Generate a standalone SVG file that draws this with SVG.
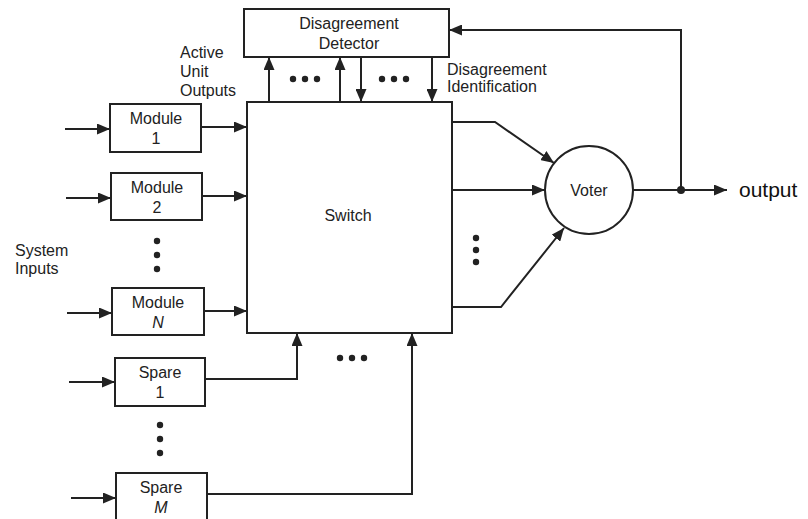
<svg xmlns="http://www.w3.org/2000/svg" width="808" height="519" viewBox="0 0 808 519">
<style>
.box{fill:#fff;stroke:#222;stroke-width:2}
.ln{fill:none;stroke:#222;stroke-width:2}
.arr{marker-end:url(#ah)}
.t{font-family:"Liberation Sans",Arial,sans-serif;font-size:16px;fill:#222;text-anchor:middle}
.tl{font-family:"Liberation Sans",Arial,sans-serif;font-size:16px;fill:#222}
.dot{fill:#222}
</style>
<defs>
<marker id="ah" viewBox="0 0 13 11" refX="13" refY="5.5" markerWidth="13" markerHeight="11" markerUnits="userSpaceOnUse" orient="auto">
<path d="M0,0 L13,5.5 L0,11 Z" fill="#222"/>
</marker>
</defs>
<rect width="808" height="519" fill="#fff"/>
<g id="detector"><rect class="box" x="244" y="9" width="205" height="48"/><text class="t" x="349" y="29">Disagreement</text><text class="t" x="349" y="49">Detector</text></g>
<g id="switch"><rect class="box" x="247" y="102" width="205" height="231"/><text class="t" x="348" y="221">Switch</text></g>
<g id="voter"><circle class="box" cx="589" cy="190" r="44"/><text class="t" x="589" y="196">Voter</text></g>
<g id="module1"><rect class="box" x="110" y="104" width="91" height="48"/><text class="t" x="156" y="124">Module</text><text class="t" x="156" y="144">1</text></g>
<g id="module2"><rect class="box" x="111" y="173" width="91" height="47"/><text class="t" x="157" y="193">Module</text><text class="t" x="157" y="213">2</text></g>
<g id="moduleN"><rect class="box" x="112" y="288" width="92" height="47"/><text class="t" x="158" y="308">Module</text><text class="t" x="158" y="328" font-style="italic">N</text></g>
<g id="spare1"><rect class="box" x="115" y="358" width="90" height="48"/><text class="t" x="160" y="378">Spare</text><text class="t" x="160" y="398">1</text></g>
<g id="spareM"><rect class="box" x="116" y="473" width="91" height="50"/><text class="t" x="161" y="493">Spare</text><text class="t" x="161" y="513" font-style="italic">M</text></g>
<g id="labels">
<text class="tl" x="180" y="58">Active</text><text class="tl" x="180" y="77">Unit</text><text class="tl" x="180" y="96">Outputs</text>
<text class="tl" x="447" y="75">Disagreement</text><text class="tl" x="447" y="92">Identification</text>
<text class="tl" x="15" y="256">System</text><text class="tl" x="15" y="274">Inputs</text>
<text x="739" y="197" font-family="Liberation Sans,Arial,sans-serif" font-size="21" fill="#111">output</text>
</g>
<g id="dots">
<circle class="dot" cx="293" cy="79" r="3.2"/><circle class="dot" cx="305" cy="79" r="3.2"/><circle class="dot" cx="317" cy="79" r="3.2"/>
<circle class="dot" cx="382" cy="79" r="3.2"/><circle class="dot" cx="394" cy="79" r="3.2"/><circle class="dot" cx="406" cy="79" r="3.2"/>
<circle class="dot" cx="157" cy="241" r="3.2"/><circle class="dot" cx="157" cy="255" r="3.2"/><circle class="dot" cx="157" cy="269" r="3.2"/>
<circle class="dot" cx="160" cy="425" r="3.2"/><circle class="dot" cx="160" cy="439" r="3.2"/><circle class="dot" cx="160" cy="453" r="3.2"/>
<circle class="dot" cx="340" cy="358" r="3.2"/><circle class="dot" cx="352" cy="358" r="3.2"/><circle class="dot" cx="364" cy="358" r="3.2"/>
<circle class="dot" cx="476" cy="238" r="3.2"/><circle class="dot" cx="476" cy="250" r="3.2"/><circle class="dot" cx="476" cy="262" r="3.2"/>
</g>
<g id="connectors">
<line class="ln arr" x1="65" y1="129" x2="110" y2="129"/>
<line class="ln arr" x1="66" y1="198" x2="111" y2="198"/>
<line class="ln arr" x1="67" y1="313" x2="112" y2="313"/>
<line class="ln arr" x1="69" y1="382" x2="115" y2="382"/>
<line class="ln arr" x1="71" y1="498" x2="116" y2="498"/>
<line class="ln arr" x1="201" y1="127" x2="247" y2="127"/>
<line class="ln arr" x1="202" y1="196" x2="247" y2="196"/>
<line class="ln arr" x1="204" y1="311" x2="247" y2="311"/>
<polyline class="ln arr" points="205,379 297,379 297,333"/>
<polyline class="ln arr" points="207,494 412,494 412,333"/>
<line class="ln arr" x1="269" y1="102" x2="269" y2="57"/>
<line class="ln arr" x1="340" y1="102" x2="340" y2="57"/>
<line class="ln arr" x1="361" y1="57" x2="361" y2="102"/>
<line class="ln arr" x1="432" y1="57" x2="432" y2="102"/>
<polyline class="ln arr" points="452,122 495,122 554,163"/>
<line class="ln arr" x1="452" y1="190" x2="545" y2="190"/>
<polyline class="ln arr" points="452,307 501,307 564,228"/>
<line class="ln arr" x1="633" y1="190" x2="727" y2="190"/>
<polyline class="ln arr" points="681,190 681,30 449,30"/>
<circle class="dot" cx="681" cy="190" r="4"/>
</g>
</svg>
